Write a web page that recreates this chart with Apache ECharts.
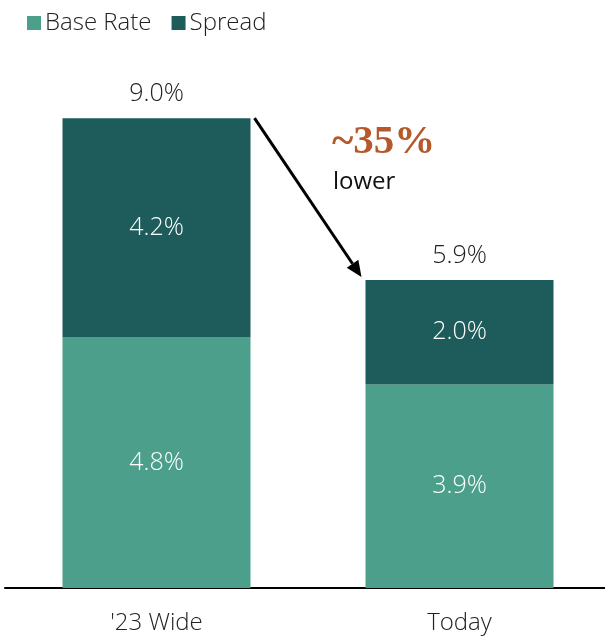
<!DOCTYPE html>
<html><head><meta charset="utf-8">
<script src="https://cdn.jsdelivr.net/npm/echarts@6/dist/echarts.min.js"></script>
<style>html,body{margin:0;padding:0;background:#fff}#c{width:605px;height:637px}</style>
</head><body><div id="c"></div>
<script>
const categories = ["'23 Wide", "Today"];
const baseRate = [4.8, 3.9];
const spread = [4.2, 2.0];
const totals = [9.0, 5.9];
const calloutBig = "~35%";
const calloutSmall = "lower";

const FONT = "Open Sans";
const FW = 300;
const FS = 24;
const FV = 25;
const chart = echarts.init(document.getElementById('c'));
const fmt = v => v.toFixed(1) + '%';
chart.setOption({
  animation: false,
  textStyle: {fontFamily: FONT},
  legend: {
    left: 22, top: 6, icon: 'rect', itemWidth: 14, itemHeight: 14, itemGap: 20,
    textStyle: {fontSize: FS, fontWeight: FW, color: '#222', fontFamily: FONT, padding: [0,0,0,-1]},
    data: ['Base Rate', 'Spread']
  },
  grid: {left: 5, width: 606, top: 66, bottom: 49, containLabel: false, outerBoundsMode: 'none'},
  xAxis: {
    type: 'category', data: categories,
    axisLine: {lineStyle: {color: '#000', width: 2}},
    axisTick: {show: false},
    axisLabel: {fontSize: FS, fontWeight: FW, color: '#222', margin: 23, fontFamily: FONT}
  },
  yAxis: {type: 'value', min: 0, max: 10, show: false, splitLine: {show: false}},
  series: [
    {name: 'Base Rate', type: 'bar', stack: 's', data: baseRate, barWidth: 188,
     itemStyle: {color: '#4C9F8A'},
     label: {show: true, position: 'inside', color: '#fff', fontSize: FV, fontWeight: FW, fontFamily: FONT, formatter: p => fmt(p.value)}},
    {name: 'Spread', type: 'bar', stack: 's', data: spread, barWidth: 188,
     itemStyle: {color: '#1D5C5A'},
     label: {show: true, position: 'inside', color: '#fff', fontSize: FV, fontWeight: FW, fontFamily: FONT, formatter: p => fmt(p.value)}},
    {name: 'Total', type: 'bar', stack: 's', data: totals.map(() => 0), barWidth: 188,
     itemStyle: {color: 'transparent'}, silent: true,
     label: {show: true, position: 'top', distance: 12, color: '#222', fontSize: FV, fontWeight: FW, fontFamily: FONT,
       formatter: p => fmt(totals[p.dataIndex])}}
  ]
});

function drawArrow() {
  const p1 = chart.convertToPixel({xAxisIndex: 0, yAxisIndex: 0}, [0, totals[0]]);
  const p2 = chart.convertToPixel({xAxisIndex: 0, yAxisIndex: 0}, [1, totals[1]]);
  const half = 94;
  const x1 = p1[0] + half + 4, y1 = p1[1];
  const x2 = p2[0] - half - 4, y2 = p2[1] - 3;
  const ang = Math.atan2(y2 - y1, x2 - x1);
  const hl = 16, hw = 7;
  const bx = x2 - hl * Math.cos(ang), by = y2 - hl * Math.sin(ang);
  const nx = -Math.sin(ang), ny = Math.cos(ang);
  chart.setOption({graphic: [
    {type: 'line', shape: {x1, y1, x2: bx, y2: by}, style: {stroke: '#000', lineWidth: 3}},
    {type: 'polygon', shape: {points: [[x2, y2], [bx + nx*hw, by + ny*hw], [bx - nx*hw, by - ny*hw]]}, style: {fill: '#000'}},
    {type: 'text', left: 332, top: 122, style: {text: calloutBig, font: 'bold 41px "Liberation Serif", "DejaVu Serif", serif', fill: '#B5592C'}},
    {type: 'text', left: 333, top: 170, style: {text: calloutSmall, font: '24px "Open Sans"', fill: '#111'}}
  ]});
}
drawArrow();
</script></body></html>
